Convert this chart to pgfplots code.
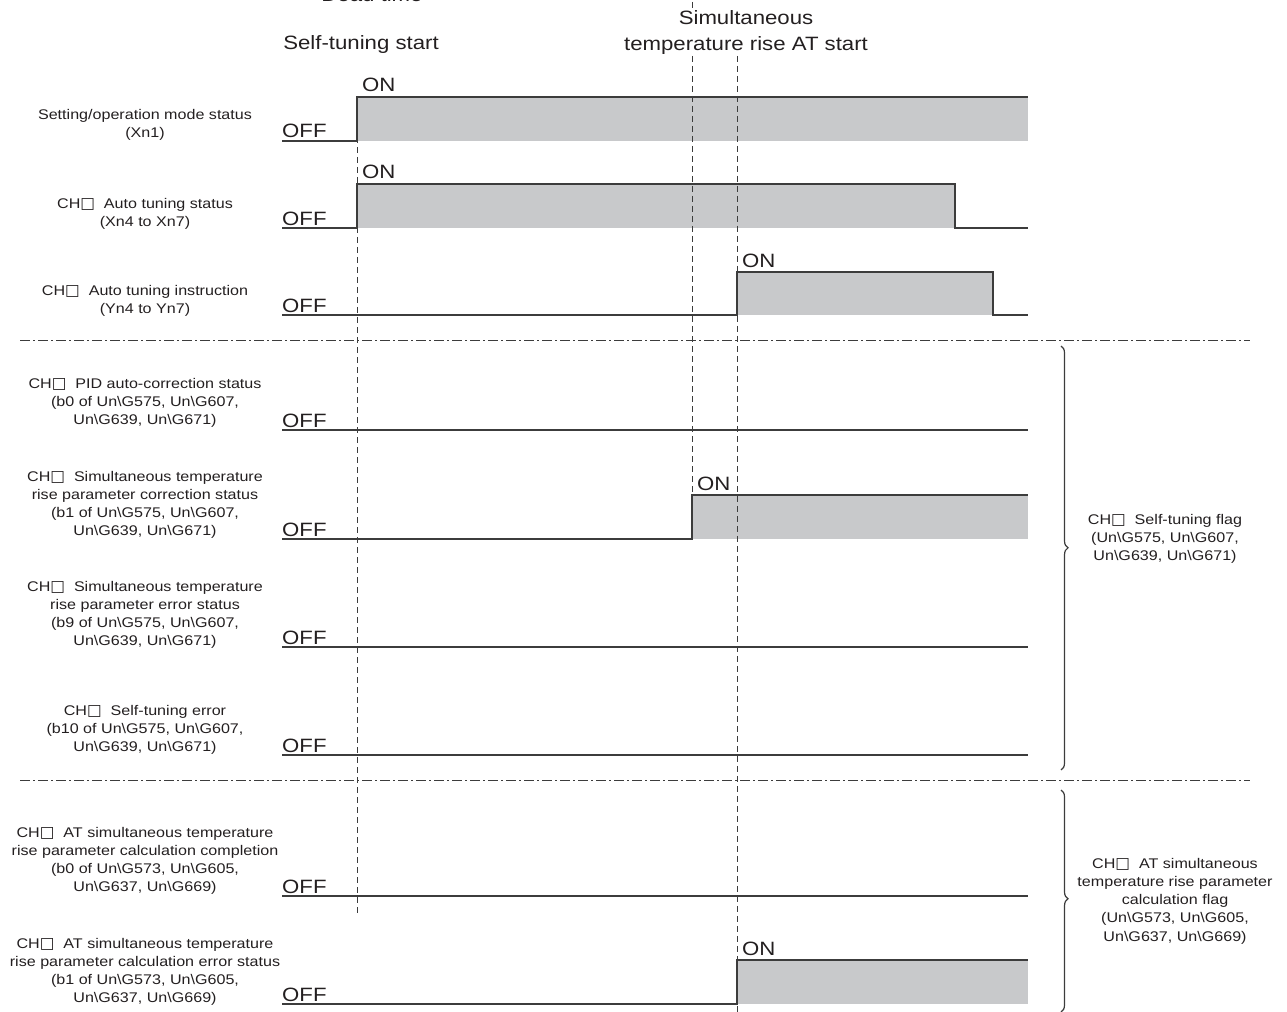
\documentclass[border=0pt]{standalone}
\usepackage{fontspec}
\setmainfont{Liberation Sans}[FakeStretch=1.15]
\newfontfamily\symfont{DejaVu Sans}
\usepackage{pgfplots}
\pgfplotsset{compat=1.18}
\usetikzlibrary{decorations.pathreplacing}
\definecolor{sig}{HTML}{3C3C3C}
\definecolor{fillg}{HTML}{C8C9CB}
\definecolor{txt}{HTML}{231F20}
\newcommand{\lblfont}{\fontsize{14bp}{18.3bp}\selectfont}
\newcommand{\bigfont}{\fontsize{19.3bp}{22bp}\selectfont}
\newcommand{\U}{Un\textbackslash G}
\newcommand{\sq}{{\symfont\fontsize{15.5bp}{14bp}\selectfont □}}
\tikzset{
  lbl/.style={anchor=south, align=center, inner sep=0pt, font=\lblfont, text=txt},
  off/.style={anchor=base west, inner sep=0pt, font=\bigfont, text=txt},
  ttl/.style={anchor=base, inner sep=0pt, font=\bigfont, text=txt},
  sigline/.style={draw=sig, line width=1.4bp},
  sigfill/.style={fill=fillg, draw=none},
  vdash/.style={draw=sig, line width=0.9bp, dash pattern=on 6bp off 4bp},
  sep/.style={draw=sig, line width=0.9bp, dash pattern=on 10bp off 3bp on 2bp off 3bp}
}
\begin{document}
\begin{tikzpicture}
\begin{axis}[scale only axis, width=1287bp, height=1012bp,
  xmin=0, xmax=1287, ymin=0, ymax=1012, y dir=reverse,
  hide axis, clip=false]

% fills
\addplot[sigfill, mark=none] coordinates {(357,141) (357,97) (1028,97) (1028,141)} -- cycle;
\addplot[sigfill, mark=none] coordinates {(357,228) (357,184) (955,184) (955,228)} -- cycle;
\addplot[sigfill, mark=none] coordinates {(737,315) (737,272) (993,272) (993,315)} -- cycle;
\addplot[sigfill, mark=none] coordinates {(692,539) (692,495) (1028,495) (1028,539)} -- cycle;
\addplot[sigfill, mark=none] coordinates {(737,1004) (737,960) (1028,960) (1028,1004)} -- cycle;

% dashed verticals
\addplot[vdash, mark=none] coordinates {(357,97) (357,916)};
\addplot[vdash, mark=none] coordinates {(692,56) (692,495)};
\addplot[vdash, mark=none] coordinates {(692,2) (692,8)};
\addplot[vdash, mark=none] coordinates {(737,56) (737,1012)};

% separators
\addplot[sep, mark=none] coordinates {(20,340) (1250,340)};
\addplot[sep, mark=none] coordinates {(20,780) (1250,780)};

% signal lines
\addplot[sigline, mark=none] coordinates {(282,141) (357,141) (357,97) (1028,97)};
\addplot[sigline, mark=none] coordinates {(282,228) (357,228) (357,184) (955,184) (955,228) (1028,228)};
\addplot[sigline, mark=none] coordinates {(282,315) (737,315) (737,272) (993,272) (993,315) (1028,315)};
\addplot[sigline, mark=none] coordinates {(282,430) (1028,430)};
\addplot[sigline, mark=none] coordinates {(282,539) (692,539) (692,495) (1028,495)};
\addplot[sigline, mark=none] coordinates {(282,647) (1028,647)};
\addplot[sigline, mark=none] coordinates {(282,755) (1028,755)};
\addplot[sigline, mark=none] coordinates {(282,896) (1028,896)};
\addplot[sigline, mark=none] coordinates {(282,1004) (737,1004) (737,960) (1028,960)};

% braces
\draw[sig, line width=1.2bp, decorate, decoration={brace, amplitude=7bp, aspect=0.476}]
  (axis cs:1061,346) -- (axis cs:1061,770);
\draw[sig, line width=1.2bp, decorate, decoration={brace, amplitude=7bp, aspect=0.49}]
  (axis cs:1061,790) -- (axis cs:1061,1012);

% titles
\node[ttl] at (axis cs:372,2) {Dead time};
\node[ttl] at (axis cs:361,50) {Self-tuning start};
\node[ttl] at (axis cs:746,25) {Simultaneous};
\node[ttl] at (axis cs:746,51) {temperature rise AT start};

% OFF / ON labels
\node[off] at (axis cs:282,138) {OFF};
\node[off] at (axis cs:282,225) {OFF};
\node[off] at (axis cs:282,312) {OFF};
\node[off] at (axis cs:282,427) {OFF};
\node[off] at (axis cs:282,536) {OFF};
\node[off] at (axis cs:282,644) {OFF};
\node[off] at (axis cs:282,752) {OFF};
\node[off] at (axis cs:282,893) {OFF};
\node[off] at (axis cs:282,1001) {OFF};
\node[off] at (axis cs:362,92) {ON};
\node[off] at (axis cs:362,179) {ON};
\node[off] at (axis cs:742,267) {ON};
\node[off] at (axis cs:697,490) {ON};
\node[off] at (axis cs:742,955) {ON};

% left labels
\node[lbl] at (axis cs:145,141) {Setting/operation mode status\\(Xn1)};
\node[lbl] at (axis cs:145,230) {CH\sq~ Auto tuning status\\(Xn4 to Xn7)};
\node[lbl] at (axis cs:145,317) {CH\sq~ Auto tuning instruction\\(Yn4 to Yn7)};
\node[lbl] at (axis cs:145,428) {CH\sq~ PID auto-correction status\\(b0 of \U575, \U607,\\\U639, \U671)};
\node[lbl] at (axis cs:145,539) {CH\sq~ Simultaneous temperature\\rise parameter correction status\\(b1 of \U575, \U607,\\\U639, \U671)};
\node[lbl] at (axis cs:145,649) {CH\sq~ Simultaneous temperature\\rise parameter error status\\(b9 of \U575, \U607,\\\U639, \U671)};
\node[lbl] at (axis cs:145,755) {CH\sq~ Self-tuning error\\(b10 of \U575, \U607,\\\U639, \U671)};
\node[lbl] at (axis cs:145,895) {CH\sq~ AT simultaneous temperature\\rise parameter calculation completion\\(b0 of \U573, \U605,\\\U637, \U669)};
\node[lbl] at (axis cs:145,1006) {CH\sq~ AT simultaneous temperature\\rise parameter calculation error status\\(b1 of \U573, \U605,\\\U637, \U669)};

% right labels
\node[align=center, inner sep=0pt, font=\lblfont, text=txt] at (axis cs:1165,539) {CH\sq~ Self-tuning flag\\(\U575, \U607,\\\U639, \U671)};
\node[align=center, inner sep=0pt, font=\lblfont, text=txt] at (axis cs:1175,901) {CH\sq~ AT simultaneous\\temperature rise parameter\\calculation flag\\(\U573, \U605,\\\U637, \U669)};
\end{axis}
\pgfresetboundingbox
\useasboundingbox (0,0) rectangle (1287bp,1012bp);
\end{tikzpicture}
\end{document}
